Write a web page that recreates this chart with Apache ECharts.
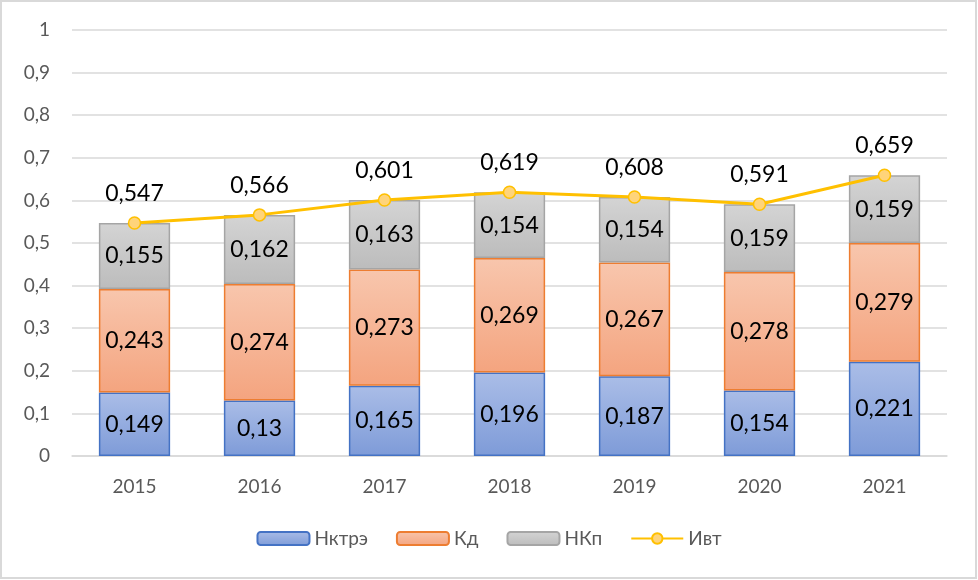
<!DOCTYPE html>
<html><head><meta charset="utf-8">
<script src="https://cdn.jsdelivr.net/npm/echarts@6/dist/echarts.min.js"></script>
<style>html,body{margin:0;padding:0;background:#fff}#c{width:978px;height:580px}</style>
</head><body><div id="c"></div>
<script>
const categories = ['2015','2016','2017','2018','2019','2020','2021'];
const nktre = [0.149, 0.13, 0.165, 0.196, 0.187, 0.154, 0.221];
const kd = [0.243, 0.274, 0.273, 0.269, 0.267, 0.278, 0.279];
const nkp = [0.155, 0.162, 0.163, 0.154, 0.154, 0.159, 0.159];
const ivt = [0.547, 0.566, 0.601, 0.619, 0.608, 0.591, 0.659];

const FONT = 'Lato, "Open Sans", sans-serif';
const fmt = p => String(p.value).replace('.', ',');
function grad(top, bottom){
  return new echarts.graphic.LinearGradient(0,0,0,1,[{offset:0,color:top},{offset:1,color:bottom}]);
}
const barLabel = {show:true, position:'inside', formatter:fmt, color:'#000', fontSize:23, fontFamily:FONT};
const chart = echarts.init(document.getElementById('c'));
chart.setOption({
  animation:false,
  graphic:[{type:'rect', shape:{x:1,y:1,width:975,height:577}, style:{fill:'none', stroke:'#d9d9d9', lineWidth:2}, silent:true}],
  grid:{left:72, right:31, top:30, bottom:124},
  legend:{
    bottom:27, left:'center', itemGap:28, itemWidth:52, itemHeight:13,
    textStyle:{color:'#595959', fontSize:19, fontFamily:FONT},
    data:['Нктрэ','Кд','НКп','Ивт']
  },
  xAxis:{
    type:'category', data:categories,
    axisLine:{lineStyle:{color:'#d9d9d9', width:1.5}}, axisTick:{show:false},
    axisLabel:{color:'#595959', fontSize:19, fontFamily:FONT, margin:21}
  },
  yAxis:{
    type:'value', min:0, max:1, interval:0.1,
    axisLabel:{color:'#595959', fontSize:19, fontFamily:FONT, margin:22,
      formatter:v => String(Math.round(v*10)/10).replace('.', ',')},
    splitLine:{lineStyle:{color:'#d9d9d9', width:1.5}},
    axisLine:{show:false}, axisTick:{show:false}
  },
  series:[
    {name:'Нктрэ', type:'bar', stack:'s', data:nktre, barWidth:'57%',
      itemStyle:{color:grad('#aabde7','#7e9bd8'), borderColor:'#4472c4', borderWidth:1.5},
      label:barLabel},
    {name:'Кд', type:'bar', stack:'s', data:kd,
      itemStyle:{color:grad('#f8c6ad','#f4a47f'), borderColor:'#ed7d31', borderWidth:1.5},
      label:barLabel},
    {name:'НКп', type:'bar', stack:'s', data:nkp,
      itemStyle:{color:grad('#d4d4d4','#bcbcbc'), borderColor:'#a5a5a5', borderWidth:1.5},
      label:barLabel},
    {name:'Ивт', type:'line', data:ivt, symbol:'circle', symbolSize:12,
      lineStyle:{color:'#ffc000', width:3},
      itemStyle:{color:'#ffd47a', borderColor:'#ffc000', borderWidth:1.5},
      label:{show:true, position:'top', distance:11, formatter:fmt, color:'#000', fontSize:23, fontFamily:FONT}}
  ]
});
</script></body></html>
